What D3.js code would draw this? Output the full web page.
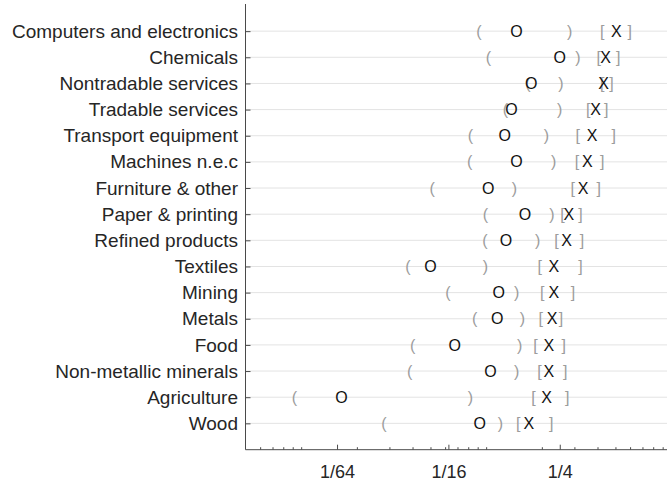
<!DOCTYPE html>
<html>
<head>
<meta charset="utf-8">
<script src="https://cdn.jsdelivr.net/npm/d3@7"></script>
<style>
  html, body { margin: 0; padding: 0; background: #fff; }
  svg { display: block; font-family: "Liberation Sans", Arial, Helvetica, sans-serif; }
</style>
</head>
<body>
<svg id="chart" width="667" height="482"></svg>
<script>
// ---- data ----
const categories = ["Computers and electronics","Chemicals","Nontradable services","Tradable services",
  "Transport equipment","Machines n.e.c","Furniture & other","Paper & printing","Refined products",
  "Textiles","Mining","Metals","Food","Non-metallic minerals","Agriculture","Wood"];
// "O" estimates with ( ) interval
const oValue = [0.146,0.250,0.175,0.137,0.126,0.146,0.1025,0.162,0.128,0.050,0.117,0.1147,0.0677,0.1054,0.01652,0.0923];
const oLow   = [0.0913,0.103,0.168,0.127,0.0823,0.0815,0.0510,0.0992,0.0984,0.0378,0.0622,0.0868,0.0400,0.0386,0.0092,0.0280];
const oHigh  = [0.283,0.313,0.254,0.250,0.212,0.232,0.142,0.227,0.190,0.0992,0.146,0.157,0.152,0.146,0.0823,0.1195];
// "X" estimates with [ ] interval
const xValue = [0.506,0.442,0.432,0.390,0.374,0.352,0.334,0.280,0.272,0.232,0.232,0.227,0.218,0.218,0.212,0.170];
const xLow   = [0.424,0.406,0.424,0.356,0.313,0.310,0.294,0.259,0.240,0.195,0.201,0.197,0.185,0.194,0.180,0.149];
const xHigh  = [0.598,0.517,0.476,0.446,0.490,0.424,0.406,0.324,0.330,0.324,0.295,0.254,0.263,0.268,0.274,0.2245];
const majorTicks = [1/64, 1/16, 1/4];
const majorLabels = ["1/64", "1/16", "1/4"];
const xDomain = [0.005, 0.95];

// ---- layout ----
const svg = d3.select("#chart");
const mLeft = 245.5, mRight = 667, mTop = 4, mBottom = 449.7;

const x = d3.scaleLog().domain(xDomain).range([mLeft, mRight]);
const y = d3.scalePoint().domain(categories).range([5, 449.5]).padding(1);

// gridlines
svg.append("g").selectAll("line").data(categories).join("line")
  .attr("x1", mLeft).attr("x2", mRight)
  .attr("y1", d => y(d)).attr("y2", d => y(d))
  .attr("stroke", "#e3e3e3").attr("stroke-width", 1);

// minor ticks: n * 10^k inside domain
const minor = [];
for (let k = -3; k <= 0; k++) for (let n = 1; n <= 9; n++) {
  const v = n * Math.pow(10, k);
  if (v > xDomain[0] * 1.0001 && v < xDomain[1]) minor.push(v);
}

const axisColor = "#4a4a4a";

const gMinor = svg.append("g").attr("transform", `translate(0,${mBottom})`)
  .call(d3.axisBottom(x).tickValues(minor).tickSizeInner(-2.5).tickSizeOuter(0).tickFormat(""));
gMinor.select(".domain").remove();
gMinor.selectAll("line").attr("stroke", axisColor);

const gX = svg.append("g").attr("transform", `translate(0,${mBottom})`)
  .call(d3.axisBottom(x).tickValues(majorTicks).tickSizeInner(-5).tickSizeOuter(0)
    .tickPadding(15.5).tickFormat((d, i) => majorLabels[i]));
gX.select(".domain").attr("stroke", axisColor).attr("d", `M${mLeft},0H${mRight}`);
gX.selectAll("line").attr("stroke", axisColor);
gX.selectAll("text").attr("font-size", 18).attr("fill", "#262626")
  .attr("font-family", "'Liberation Sans', Arial, sans-serif");

const gY = svg.append("g").attr("transform", `translate(${mLeft},0)`)
  .call(d3.axisLeft(y).tickSizeInner(-5).tickSizeOuter(0).tickPadding(7.5));
gY.select(".domain").attr("stroke", axisColor).attr("d", `M0,${mTop}V${mBottom}`);
gY.selectAll("line").attr("stroke", axisColor);
gY.selectAll("text").attr("font-size", 19).attr("fill", "#262626")
  .attr("font-family", "'Liberation Sans', Arial, sans-serif");

// markers
const rows = categories.map((c, i) => ({c, i}));
function glyphs(cls, vals, ch, color) {
  svg.append("g").attr("class", cls).selectAll("text").data(rows).join("text")
    .attr("x", d => x(vals[d.i]))
    .attr("y", d => y(d.c))
    .attr("dy", "0.35em")
    .attr("text-anchor", "middle")
    .attr("font-size", 16)
    .attr("fill", color)
    .text(ch);
}
const grey = "#9c9c9c";
glyphs("olow", oLow, "(", grey);
glyphs("ohigh", oHigh, ")", grey);
glyphs("xlow", xLow, "[", grey);
glyphs("xhigh", xHigh, "]", grey);
glyphs("oval", oValue, "O", "#111");
glyphs("xval", xValue, "X", "#111");
</script>
</body>
</html>
